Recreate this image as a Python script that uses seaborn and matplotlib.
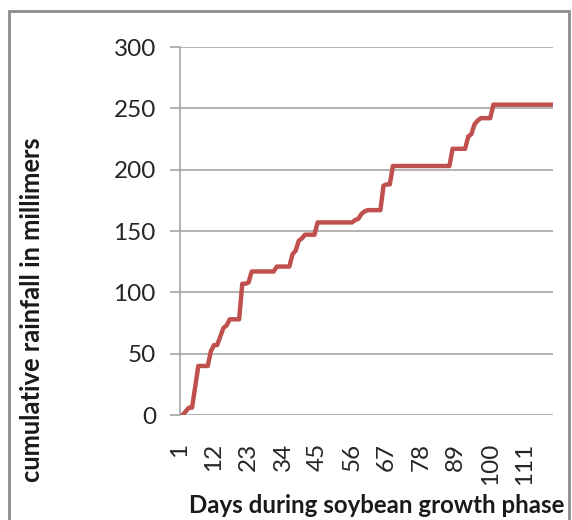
import matplotlib
matplotlib.use("Agg")
import matplotlib.pyplot as plt
import matplotlib.transforms as mtransforms
from matplotlib.patches import Rectangle
import seaborn as sns
import pandas as pd

days = list(range(1, 121))
rainfall = [
    0, 0, 3, 6, 6, 23, 40, 40, 40, 40,
    52, 57, 57, 64, 71, 73, 78, 78, 78, 78,
    107, 107, 108, 117, 117, 117, 117, 117, 117, 117,
    117, 121, 121, 121, 121, 121, 131, 134, 142, 144,
    147, 147, 147, 147, 157, 157, 157, 157, 157, 157,
    157, 157, 157, 157, 157, 157, 159, 160, 164, 166,
    167, 167, 167, 167, 167, 187, 188, 188, 203, 203,
    203, 203, 203, 203, 203, 203, 203, 203, 203, 203,
    203, 203, 203, 203, 203, 203, 203, 217, 217, 217,
    217, 217, 227, 229, 237, 240, 242, 242, 242, 242,
    253, 253, 253, 253, 253, 253, 253, 253, 253, 253,
    253, 253, 253, 253, 253, 253, 253, 253, 253, 253,
]
x_ticks = [1, 12, 23, 34, 45, 56, 67, 78, 89, 100, 111]
y_ticks = [0, 50, 100, 150, 200, 250, 300]
x_label = "Days during soybean growth phase"
y_label = "cumulative rainfall in millimers"

sns.set_theme(style="white")
plt.rcParams["font.family"] = ["Lato", "DejaVu Sans"]

W, H = 572, 520
fig = plt.figure(figsize=(W / 100, H / 100), dpi=100)

# outer chart frame (cropped on right/bottom)
fig.patches.append(Rectangle((9 / W, -0.1), (569 - 9) / W, 1 - 11 / H + 0.1,
                             transform=fig.transFigure, fill=False,
                             edgecolor="#8c8c8c", linewidth=2))

ax = fig.add_axes([179.5 / W, 1 - 415 / H, (553 - 179.5) / W, (415 - 47) / H])
df = pd.DataFrame({"day": days, "rain": rainfall})
sns.lineplot(data=df, x="day", y="rain", ax=ax, color="#c0504d", linewidth=3.2)

ax.set_xlim(1, 120)
ax.set_ylim(0, 300)
ax.set_yticks(y_ticks)
ax.set_yticklabels([str(v) for v in y_ticks], fontsize=17.5, color="#262626")
ax.set_xticks(x_ticks)
ax.set_xticklabels([str(v) for v in x_ticks], fontsize=17.5, color="#262626",
                   rotation=90, va="top", ha="center")
offset = mtransforms.ScaledTranslation(2.5 / 100, 0, fig.dpi_scale_trans)
for lbl in ax.get_xticklabels():
    lbl.set_transform(lbl.get_transform() + offset)

ax.grid(axis="y", color="#a6a6a6", linewidth=1.2)
ax.grid(axis="x", visible=False)
ax.tick_params(axis="y", length=7, width=1.2, color="#a6a6a6", pad=10, left=True)
ax.tick_params(axis="x", length=0, pad=20)
for s in ["top", "right", "bottom"]:
    ax.spines[s].set_visible(False)
ax.spines["left"].set_color("#a6a6a6")
ax.spines["left"].set_linewidth(1.2)
ax.set_xlabel("")
ax.set_ylabel("")

fig.text(32 / W, 1 - 310 / H, y_label, rotation=90, ha="center", va="center",
         fontsize=18.4, fontweight="bold", color="#1a1a1a")
fig.text(189 / W, 1 - 513 / H, x_label, ha="left", va="baseline",
         fontsize=17.3, fontweight="bold", color="#1a1a1a")

fig.savefig("out.png", dpi=100)
